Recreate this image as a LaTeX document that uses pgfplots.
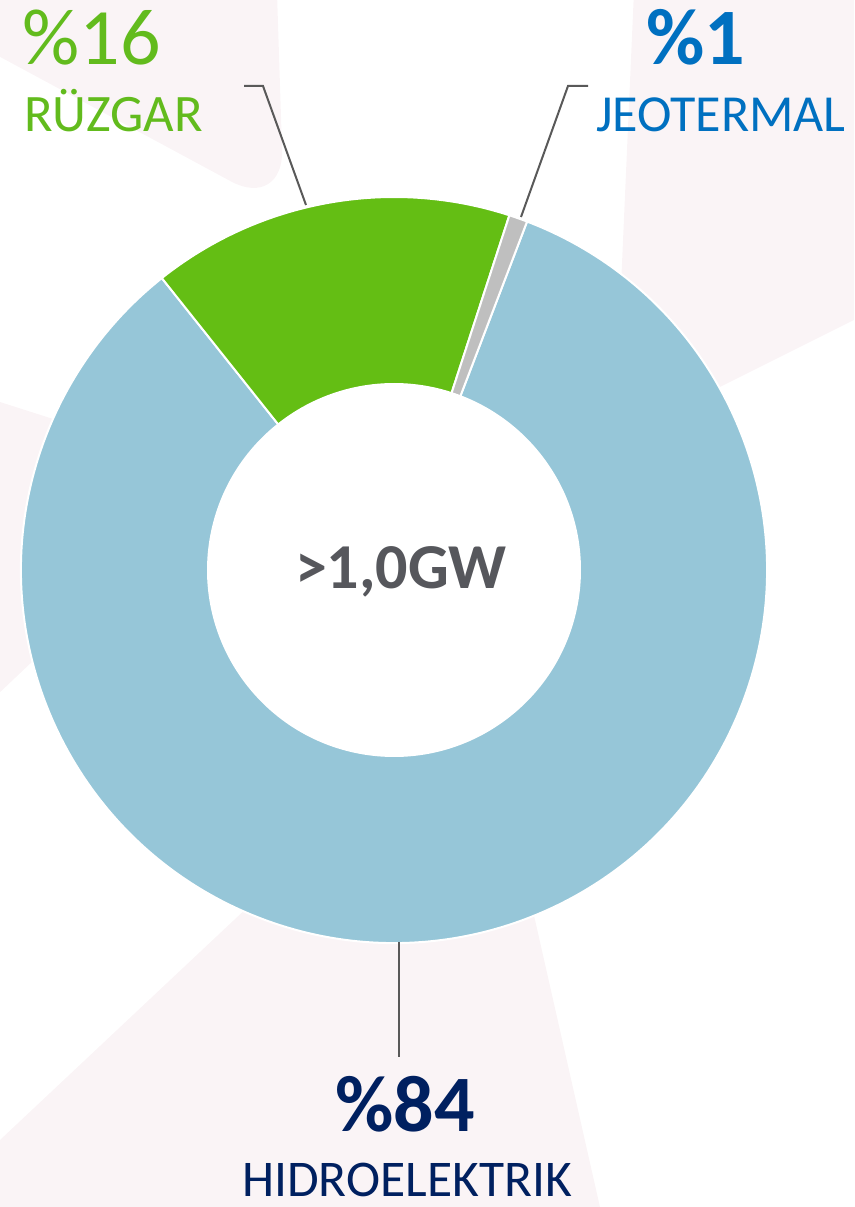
\documentclass[border=0pt]{standalone}
\usepackage{fontspec}
\setmainfont{Carlito}
\usepackage{pgfplots}
\usepackage{pgfplotstable}
\pgfplotsset{compat=1.18}

\definecolor{hydro}{HTML}{96C6D8}
\definecolor{wind}{HTML}{64BE14}
\definecolor{geo}{HTML}{BFBFBF}
\definecolor{bgpink}{HTML}{FAF4F6}
\definecolor{windtxt}{HTML}{62BB1D}
\definecolor{geotxt}{HTML}{0070C0}
\definecolor{hydrotxt}{HTML}{002060}
\definecolor{centertxt}{HTML}{56575C}
\definecolor{leader}{HTML}{595959}

% share of installed capacity, in %
\pgfplotstableread{
source value
Hidroelektrik 83.5
Ruzgar 15.7
Jeotermal 0.8
}\sharetable

\begin{document}
\begin{tikzpicture}
\pgfplotstablegetelem{0}{value}\of\sharetable \let\vHyd\pgfplotsretval
\pgfplotstablegetelem{1}{value}\of\sharetable \let\vWind\pgfplotsretval
\pgfplotstablegetelem{2}{value}\of\sharetable \let\vGeo\pgfplotsretval
% slices run clockwise from the start angle
\pgfmathsetmacro\aZero{69.1}
\pgfmathsetmacro\aOne{\aZero-3.6*\vHyd}
\pgfmathsetmacro\aTwo{\aOne-3.6*\vWind}
\pgfmathsetmacro\aThree{\aTwo-3.6*\vGeo}
\def\cx{394}\def\cy{637}\def\ro{373}\def\ri{186}
\newcommand\slice[3]{%
  \fill[#3, draw=white, line width=1.5pt]
    (axis cs:{\cx+\ro*cos(#1)},{\cy+\ro*sin(#1)})
    arc[start angle=#1, end angle=#2, radius=\ro*0.75pt]
    -- (axis cs:{\cx+\ri*cos(#2)},{\cy+\ri*sin(#2)})
    arc[start angle=#2, end angle=#1, radius=\ri*0.75pt] -- cycle;}
\begin{axis}[
  width=640.5pt, height=905.25pt, scale only axis,
  xmin=0, xmax=854, ymin=0, ymax=1207,
  hide axis,
]
% faint background rays
\fill[bgpink, rounded corners=45pt] (axis cs:-200,1400) -- (axis cs:271,1400) -- (axis cs:284,997) -- (axis cs:-200,1258) -- cycle;
\fill[bgpink] (axis cs:638,1307) -- (axis cs:954,1307) -- (axis cs:954,937) -- (axis cs:700,810) -- (axis cs:616,807) -- cycle;
\fill[bgpink] (axis cs:-100,837) -- (axis cs:150,757) -- (axis cs:150,657) -- (axis cs:-100,420) -- cycle;
\fill[bgpink] (axis cs:-100,-27) -- (axis cs:-100,-93) -- (axis cs:621,-93) -- (axis cs:526,327) -- (axis cs:300,349) -- cycle;

\slice{\aZero}{\aOne}{hydro}
\slice{\aOne}{\aTwo}{wind}
\slice{\aTwo}{\aThree}{geo}

% leader lines
\draw[leader, line width=1.5pt] (axis cs:244,1121) -- (axis cs:263,1121) -- (axis cs:306,1002);
\draw[leader, line width=1.5pt] (axis cs:588,1121) -- (axis cs:568,1121) -- (axis cs:521,990);
\draw[leader, line width=1.5pt] (axis cs:399,265) -- (axis cs:399,150);

% labels
\node[anchor=base west, inner sep=0, text=windtxt, font=\fontsize{60}{60}\selectfont] at (axis cs:22,1142) {\%16};
\node[anchor=base west, inner sep=0, text=windtxt, font=\fontsize{39.5}{40}\selectfont] at (axis cs:24,1075) {RÜZGAR};
\node[anchor=base, inner sep=0, text=geotxt, font=\fontsize{60}{60}\selectfont\bfseries] at (axis cs:696,1142) {\%1};
\node[anchor=base, inner sep=0, text=geotxt, font=\fontsize{39}{40}\selectfont] at (axis cs:721,1075) {JEOTERMAL};
\node[anchor=base, inner sep=0, text=hydrotxt, font=\fontsize{60}{60}\selectfont\bfseries] at (axis cs:405,75) {\%84};
\node[anchor=base, inner sep=0, text=hydrotxt, font=\fontsize{38.6}{40}\selectfont] at (axis cs:407,10) {HIDROELEKTRIK};
\node[anchor=base, inner sep=0, text=centertxt, font=\fontsize{48}{48}\selectfont\bfseries] at (axis cs:401,618) {>1,0GW};
\end{axis}
\pgfresetboundingbox
\path (current axis.south west) rectangle (current axis.north east);
\end{tikzpicture}
\end{document}
